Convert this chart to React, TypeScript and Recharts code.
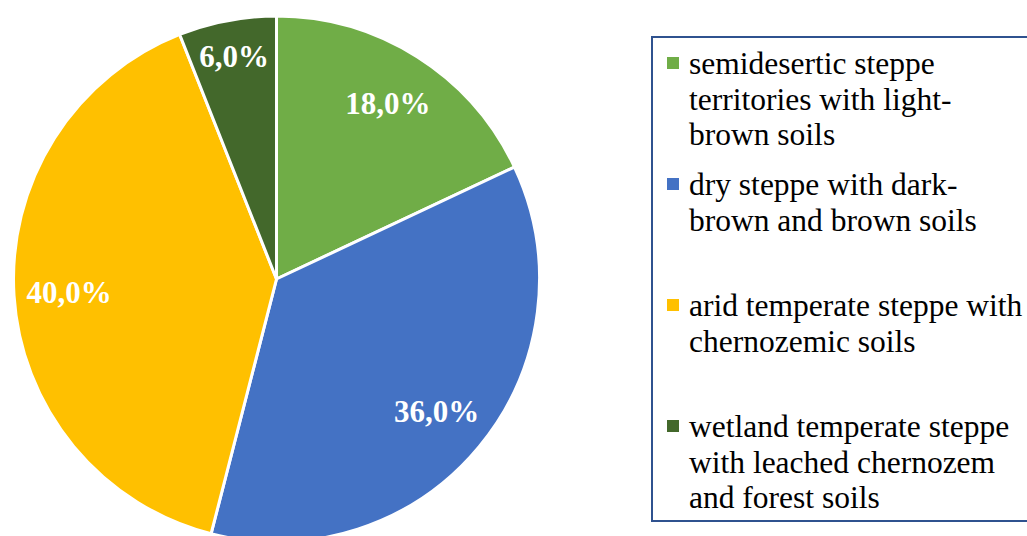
import { PieChart, Pie, Cell, Legend } from 'recharts'

const zones = [
  'semidesertic steppe\nterritories with light-\nbrown soils',
  'dry steppe with dark-\nbrown and brown soils',
  'arid temperate steppe with\nchernozemic soils',
  'wetland temperate steppe\nwith leached chernozem\nand forest soils',
]
const shares = [18, 36, 40, 6]
const colors = ['#70AD47', '#4472C4', '#FFC000', '#43682B']

const data = zones.map((name, i) => ({ name, value: shares[i] }))

const RAD = Math.PI / 180
const SERIF = '"Liberation Serif", "Times New Roman", serif'

const renderLabel = (p: any) => {
  const k = p.percent < 0.1 ? 0.86 : 0.79
  const r = p.outerRadius * k
  const x = p.cx + r * Math.cos(-p.midAngle * RAD)
  const y = p.cy + r * Math.sin(-p.midAngle * RAD)
  return (
    <text x={x} y={y} fill="#fff" textAnchor="middle" dominantBaseline="central"
      style={{ fontFamily: SERIF, fontSize: 31, fontWeight: 700 }}>
      {p.value.toFixed(1).replace('.', ',')}%
    </text>
  )
}

// legend keeps the data order (recharts sorts its payload by default)
const renderLegend = () => (
  <div style={{ paddingTop: 8 }}>
    {data.map((d, i) => (
      <div key={i} style={{ position: 'relative', height: 121 }}>
        <span style={{
          position: 'absolute', left: 14, top: 11, width: 12, height: 12,
          background: colors[i],
        }} />
        <div style={{
          position: 'absolute', left: 36, top: 0, whiteSpace: 'pre',
          fontFamily: SERIF, fontSize: 31.5, lineHeight: '35.5px', color: '#000',
        }}>
          {d.name}
        </div>
      </div>
    ))}
  </div>
)

export default function App() {
  return (
    <div style={{ position: 'absolute', left: 0, top: 0, width: 1027, height: 536, overflow: 'hidden', background: '#fff' }}>
      <PieChart width={1027} height={536} margin={{ top: 0, right: 0, bottom: 0, left: 0 }}>
        <Pie
          data={data}
          dataKey="value"
          nameKey="name"
          cx={276.5}
          cy={279}
          outerRadius={263}
          startAngle={90}
          endAngle={-270}
          stroke="#fff"
          strokeWidth={3}
          label={renderLabel}
          labelLine={false}
          isAnimationActive={false}
        >
          {data.map((d, i) => <Cell key={d.name} fill={colors[i]} />)}
        </Pie>
        <Legend
          layout="vertical"
          align="right"
          verticalAlign="top"
          content={renderLegend}
          wrapperStyle={{
            left: 651, top: 36, width: 400, height: 486, boxSizing: 'border-box',
            border: '2px solid #2F528F', background: '#fff',
          }}
        />
      </PieChart>
    </div>
  )
}
